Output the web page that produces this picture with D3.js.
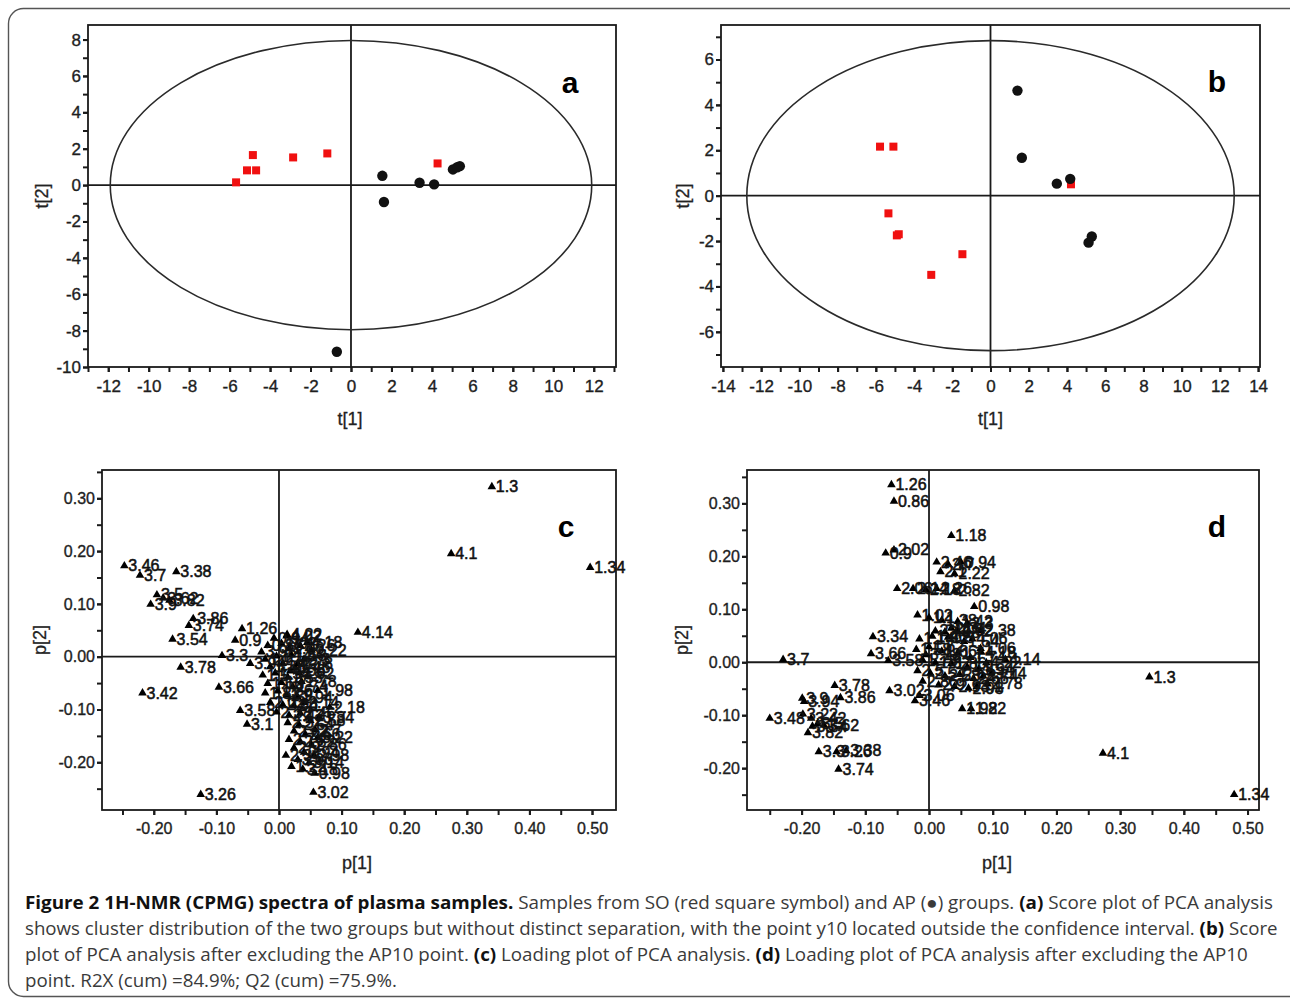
<!DOCTYPE html>
<html><head><meta charset="utf-8">
<script src="https://cdn.jsdelivr.net/npm/d3@7"></script>
<style>
html,body{margin:0;padding:0;background:#fff;}
svg{display:block;}
</style></head><body>
<svg id="fig" width="1290" height="1000"></svg>
<script>
// ---------------- DATA ----------------
// Score plot (a): SO = red squares, AP = black dots  [t1, t2]
const soScoresA = [[-5.68,0.15],[-4.85,1.65],[-5.14,0.81],[-4.69,0.81],[-2.86,1.52],[-1.17,1.74],[4.28,1.19]];
const apScoresA = [[1.55,0.51],[1.63,-0.93],[3.39,0.13],[4.11,0.04],[5.04,0.86],[5.38,1.04],[5.25,0.98],[-0.70,-9.16]];
const hotellingA = [11.9, 7.95];
// Score plot (b): after excluding AP10
const soScoresB = [[-5.78,2.16],[-5.08,2.16],[-5.34,-0.78],[-4.90,-1.75],[-4.80,-1.70],[-1.47,-2.58],[-3.10,-3.49],[4.21,0.50]];
const apScoresB = [[1.41,4.63],[1.64,1.67],[3.47,0.53],[4.17,0.74],[5.30,-1.80],[5.13,-2.07]];
const hotellingB = [12.75, 6.83];

// Tick labels
const ticksXA = [-12,-10,-8,-6,-4,-2,0,2,4,6,8,10,12];
const ticksYA = [-10,-8,-6,-4,-2,0,2,4,6,8];
const ticksXB = [-14,-12,-10,-8,-6,-4,-2,0,2,4,6,8,10,12,14];
const ticksYB = [-6,-4,-2,0,2,4,6];
const ticksXC = [-0.2,-0.1,0,0.1,0.2,0.3,0.4,0.5];
const ticksYC = [-0.2,-0.1,0,0.1,0.2,0.3];
const ticksXD = [-0.2,-0.1,0,0.1,0.2,0.3,0.4,0.5];
const ticksYD = [-0.2,-0.1,0,0.1,0.2,0.3];

// Loading plot (c): [ppm label, p1, p2]
const loadingsC = [
 ["1.3",0.340,0.323],["1.34",0.497,0.170],["4.1",0.275,0.196],["4.14",0.126,0.047],
 ["3.46",-0.247,0.173],["3.7",-0.222,0.155],["3.38",-0.164,0.162],
 ["3.5",-0.195,0.118],["3.62",-0.185,0.112],["3.82",-0.175,0.108],["3.9",-0.205,0.100],
 ["3.86",-0.137,0.073],["3.74",-0.144,0.060],["3.54",-0.170,0.034],
 ["1.26",-0.059,0.054],["0.9",-0.070,0.032],["3.3",-0.091,0.003],["3.78",-0.157,-0.019],
 ["3.66",-0.096,-0.057],["3.42",-0.218,-0.068],["3.58",-0.062,-0.101],["3.1",-0.051,-0.127],
 ["3.26",-0.125,-0.260],["3.02",0.055,-0.256],["0.98",0.057,-0.220],["1.22",0.020,-0.207],
 ["2.34",0.011,-0.186],["4.22",0.013,0.043],["3.94",-0.046,-0.012],
 ["0.86",-0.018,0.022],["0.94",-0.008,0.036],["1.02",0.004,0.026],["1.06",0.016,0.016],
 ["1.1",-0.022,-0.004],["1.14",-0.004,0.002],["1.18",0.020,0.004],["1.38",-0.014,-0.018],
 ["1.42",0.006,-0.012],["1.46",0.026,-0.020],["1.5",-0.026,-0.034],["1.54",-0.006,-0.030],
 ["1.58",0.014,-0.038],["1.62",0.032,-0.030],["1.66",-0.018,-0.050],["1.7",0.004,-0.048],
 ["1.74",0.022,-0.056],["1.78",0.036,-0.046],["1.82",-0.022,-0.068],["1.86",-0.002,-0.064],
 ["1.9",0.012,-0.072],["1.94",0.030,-0.076],["1.98",0.062,-0.063],["2.02",-0.014,-0.086],
 ["2.06",0.006,-0.090],["2.1",0.024,-0.092],["2.14",0.040,-0.086],["2.18",0.081,-0.095],
 ["2.22",0.052,0.013],["2.26",0.034,0.022],["2.3",0.040,-0.004],["2.38",-0.004,-0.104],
 ["2.42",0.016,-0.110],["2.46",0.034,-0.106],["2.78",0.030,-0.012],
 ["3.98",-0.028,0.010],["4.02",0.012,0.040],["4.06",0.018,-0.026],["4.18",0.045,0.028],
 ["2.5",0.014,-0.124],["2.54",0.032,-0.128],["2.58",0.050,-0.120],["2.62",0.024,-0.140],
 ["2.66",0.042,-0.146],["2.7",0.058,-0.138],["2.74",0.016,-0.156],["2.82",0.034,-0.160],
 ["2.86",0.052,-0.166],["2.9",0.024,-0.172],["2.94",0.040,-0.180],["2.98",0.056,-0.186],
 ["3.06",0.030,-0.194],["3.14",0.048,-0.200],["3.18",0.038,-0.212],["3.22",0.062,-0.152],
 ["3.34",0.064,-0.114]
];

// Loading plot (d): [ppm label, p1, p2]
const loadingsD = [
 ["1.26",-0.059,0.336],["0.86",-0.055,0.305],["1.18",0.035,0.240],["2.02",-0.055,0.213],
 ["0.9",-0.068,0.207],["2.46",0.012,0.190],["2.7",0.030,0.186],["0.94",0.050,0.190],
 ["2.22",0.040,0.168],["2.1",0.018,0.172],["2.06",-0.050,0.140],["2.14",-0.025,0.140],
 ["2.18",-0.005,0.138],["2.26",0.012,0.140],["2.82",0.040,0.136],["0.98",0.071,0.106],
 ["1.02",-0.018,0.090],["2.38",0.081,0.061],["3.34",-0.088,0.049],["3.66",-0.091,0.017],
 ["3.58",-0.064,0.004],["1.06",0.081,0.027],["4.14",0.120,0.006],["3.7",-0.229,0.006],
 ["1.3",0.346,-0.027],["4.1",0.273,-0.171],["1.34",0.479,-0.249],["3.78",-0.148,-0.043],
 ["3.86",-0.139,-0.066],["3.9",-0.199,-0.067],["3.94",-0.196,-0.073],["3.48",-0.250,-0.105],
 ["3.22",-0.198,-0.097],["3.54",-0.183,-0.120],["3.82",-0.190,-0.132],["3.3",-0.173,-0.168],
 ["3.26",-0.145,-0.168],["3.38",-0.130,-0.166],["3.74",-0.142,-0.201],["3.02",-0.062,-0.053],
 ["3.46",-0.022,-0.072],["3.06",-0.015,-0.062],["1.98",0.052,-0.087],["1.22",0.066,-0.087],
 ["3.42",-0.185,-0.105],["3.5",-0.175,-0.115],["3.62",-0.165,-0.118],
 ["1.1",0.000,0.085],["1.38",0.020,0.080],["1.42",0.045,0.078],["2.3",0.060,0.075],
 ["2.34",0.035,0.065],["2.42",0.010,0.060],
 ["1.14",-0.015,0.045],["1.46",0.005,0.050],["1.5",0.030,0.048],["1.54",0.055,0.040],
 ["1.58",-0.020,0.025],["1.62",0.000,0.030],["1.66",0.020,0.022],["1.7",0.045,0.018],
 ["1.74",0.065,0.010],["1.78",-0.010,0.005],["1.82",0.010,0.000],["1.86",0.035,-0.002],
 ["1.9",0.060,-0.008],["1.94",0.078,-0.012],["2.5",-0.018,-0.015],["2.54",0.002,-0.020],
 ["2.58",0.025,-0.025],["2.62",0.048,-0.022],["2.66",0.070,-0.030],["2.74",0.085,-0.025],
 ["2.78",0.092,-0.040],["2.86",-0.010,-0.035],["2.9",0.015,-0.042],["2.94",0.040,-0.045],
 ["2.98",0.062,-0.048],["3.1",0.075,-0.045],["3.14",0.098,-0.020],["3.18",-0.005,0.015],
 ["3.98",0.025,0.058],["4.02",0.045,0.060],["4.06",0.068,0.045],["4.18",0.082,0.020],
 ["4.22",0.090,0.000]
];

const captionLines = [
 [["b","Figure 2 1H-NMR (CPMG) spectra of plasma samples."],["r"," Samples from SO (red square symbol) and AP (\u25CF) groups. "],["b","(a)"],["r"," Score plot of PCA analysis"]],
 [["r","shows cluster distribution of the two groups but without distinct separation, with the point y10 located outside the confidence interval. "],["b","(b)"],["r"," Score"]],
 [["r","plot of PCA analysis after excluding the AP10 point. "],["b","(c)"],["r"," Loading plot of PCA analysis. "],["b","(d)"],["r"," Loading plot of PCA analysis after excluding the AP10"]],
 [["r","point. R2X (cum) =84.9%; Q2 (cum) =75.9%."]]
];

// ---------------- DRAWING ----------------
const svg = d3.select("#fig");
svg.append("rect").attr("width",1290).attr("height",1000).attr("fill","#fff");
svg.append("rect").attr("x",8.5).attr("y",8.5).attr("width",1295).attr("height",988)
  .attr("rx",15).attr("fill","none").attr("stroke","#555").attr("stroke-width",1.4);

const FONT = "'Liberation Sans', Arial, sans-serif";
const INK = "#1a1a1a";
const hyph = s => s.replace(/\u2212/g, "-");

function panel(cfg){
  const g = svg.append("g");
  const x = d3.scaleLinear().domain(cfg.xd).range([cfg.x0,cfg.x1]);
  const y = d3.scaleLinear().domain(cfg.yd).range([cfg.y1,cfg.y0]);
  const fmt = cfg.fmt;
  const ax1 = d3.axisBottom(x).tickValues(cfg.xMinor).tickSize(5).tickSizeOuter(0).tickFormat("");
  const ay1 = d3.axisLeft(y).tickValues(cfg.yMinor).tickSize(5).tickSizeOuter(0).tickFormat("");
  const ax2 = d3.axisBottom(x).tickValues(cfg.xTicks).tickSize(5).tickSizeOuter(0).tickPadding(8).tickFormat(fmt);
  const ay2 = d3.axisLeft(y).tickValues(cfg.yTicks).tickSize(5).tickSizeOuter(0).tickPadding(2).tickFormat(fmt);
  [ax1,ax2].forEach(a=>{
    const s = g.append("g").attr("transform",`translate(0,${cfg.y1})`).call(a);
    s.select(".domain").remove();
  });
  [ay1,ay2].forEach(a=>{
    const s = g.append("g").attr("transform",`translate(${cfg.x0},0)`).call(a);
    s.select(".domain").remove();
  });
  g.selectAll(".tick line").attr("stroke",INK).attr("stroke-width",2);
  g.selectAll(".tick text").attr("fill","#1e1e1e").attr("stroke","#1e1e1e").attr("stroke-width",0.35)
    .style("font-family",FONT).style("font-size",cfg.tickFont+"px");
  g.append("rect").attr("x",cfg.x0).attr("y",cfg.y0).attr("width",cfg.x1-cfg.x0)
    .attr("height",cfg.y1-cfg.y0).attr("fill","none").attr("stroke",INK).attr("stroke-width",1.8);
  g.append("line").attr("x1",x(0)).attr("x2",x(0)).attr("y1",cfg.y0).attr("y2",cfg.y1)
    .attr("stroke",INK).attr("stroke-width",1.8);
  g.append("line").attr("x1",cfg.x0).attr("x2",cfg.x1).attr("y1",y(0)).attr("y2",y(0))
    .attr("stroke",INK).attr("stroke-width",1.8);
  g.append("text").attr("x",(cfg.x0+cfg.x1)/2 + (cfg.xtDx||0)).attr("y",cfg.xtY)
    .attr("text-anchor","middle").attr("fill","#222").attr("stroke","#222").attr("stroke-width",0.3)
    .style("font-family",FONT).style("font-size","18px").text(cfg.xt);
  g.append("text").attr("transform",`translate(${cfg.ytX},${(cfg.y0+cfg.y1)/2}) rotate(-90)`)
    .attr("text-anchor","middle").attr("fill","#222").attr("stroke","#222").attr("stroke-width",0.3)
    .style("font-family",FONT).style("font-size","18px").text(cfg.yt);
  g.append("text").attr("x",cfg.lx).attr("y",cfg.ly).attr("text-anchor","middle")
    .attr("fill","#000").style("font-family",FONT).style("font-weight","bold")
    .style("font-size","30px").text(cfg.letter);
  return {g,x,y};
}

function scorePanel(cfg, so, ap, hot){
  const {g,x,y} = panel(cfg);
  g.append("ellipse").attr("cx",x(0)).attr("cy",y(0))
    .attr("rx",x(hot[0])-x(0)).attr("ry",y(0)-y(hot[1]))
    .attr("fill","none").attr("stroke","#2a2a2a").attr("stroke-width",1.6);
  g.selectAll("rect.so").data(so).join("rect").attr("class","so")
    .attr("x",d=>x(d[0])-4).attr("y",d=>y(d[1])-4).attr("width",8).attr("height",8)
    .attr("fill","#f01010");
  g.selectAll("circle.ap").data(ap).join("circle").attr("class","ap")
    .attr("cx",d=>x(d[0])).attr("cy",d=>y(d[1])).attr("r",5.2).attr("fill","#111");
}

function loadingPanel(cfg, data){
  const {g,x,y} = panel(cfg);
  const tri = d3.symbol().type(d3.symbolTriangle).size(32);
  g.selectAll("path.pt").data(data).join("path").attr("class","pt")
    .attr("d",tri).attr("transform",d=>`translate(${x(d[1])},${y(d[2])+0.5})`).attr("fill","#000");
  g.selectAll("text.lb").data(data).join("text").attr("class","lb")
    .attr("x",d=>x(d[1])+4).attr("y",d=>y(d[2])+6)
    .attr("fill","#111").attr("stroke","#111").attr("stroke-width",0.55)
    .style("font-family",FONT).style("font-size","16px").text(d=>d[0]);
}

const intFmt = d=>hyph(d3.format("d")(d));
const decFmt = d=>hyph(d3.format(".2f")(d));

scorePanel({x0:88,x1:616,y0:25,y1:367,xd:[-13,13.1],yd:[-10,8.8],
  xTicks:ticksXA,yTicks:ticksYA,xMinor:d3.range(-13,14,1),yMinor:d3.range(-10,9,1),
  fmt:intFmt,tickFont:17,xt:"t[1]",yt:"t[2]",xtY:425,ytX:48,letter:"a",lx:570,ly:93,xtDx:-2},
  soScoresA, apScoresA, hotellingA);

scorePanel({x0:721,x1:1260,y0:25,y1:367,xd:[-14.1,14.1],yd:[-7.55,7.52],
  xTicks:ticksXB,yTicks:ticksYB,xMinor:d3.range(-14,15,1),yMinor:d3.range(-7,8,1),
  fmt:intFmt,tickFont:17,xt:"t[1]",yt:"t[2]",xtY:425,ytX:689,letter:"b",lx:1217,ly:92},
  soScoresB, apScoresB, hotellingB);

loadingPanel({x0:102,x1:616,y0:470,y1:810,xd:[-0.2827,0.5383],yd:[-0.2904,0.3536],
  xTicks:ticksXC,yTicks:ticksYC,xMinor:d3.range(-0.25,0.5001,0.05),yMinor:d3.range(-0.25,0.3501,0.05),
  fmt:decFmt,tickFont:16,xt:"p[1]",yt:"p[2]",xtY:869,ytX:46,letter:"c",lx:566,ly:537,xtDx:-2},
  loadingsC);

loadingPanel({x0:747,x1:1259,y0:470,y1:810,xd:[-0.2857,0.518],yd:[-0.279,0.363],
  xTicks:ticksXD,yTicks:ticksYD,xMinor:d3.range(-0.25,0.5001,0.05),yMinor:d3.range(-0.25,0.3501,0.05),
  fmt:decFmt,tickFont:16,xt:"p[1]",yt:"p[2]",xtY:869,ytX:688,letter:"d",lx:1217,ly:537,xtDx:-6},
  loadingsD);

// caption
const capTargets = [1249, 1253, 1224, 372];
const capBase = [909, 935, 961, 987];
captionLines.forEach((parts,i)=>{
  const t = svg.append("text").attr("transform",`translate(25,${capBase[i]})`)
    .style("font-family","'Open Sans', 'Noto Sans', sans-serif").style("font-size","18px");
  parts.forEach(p=>{
    t.append("tspan").text(p[1])
      .style("font-weight",p[0]==="b"?"700":"400")
      .attr("fill",p[0]==="b"?"#111":"#3a3a3a");
  });
  const w = t.node().getComputedTextLength();
  const s = capTargets[i]/w;
  t.attr("transform",`translate(25,${capBase[i]}) scale(${s},1)`);
});
</script>
</body></html>
